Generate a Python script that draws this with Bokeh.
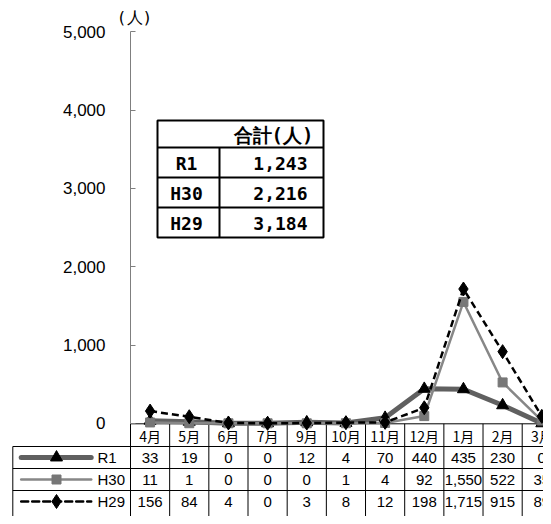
from bokeh.plotting import figure
from bokeh.models import Range1d, LinearAxis, FixedTicker, NumeralTickFormatter, ColumnDataSource
from bokeh.core.properties import value
from bokeh.embed import file_html
from bokeh.resources import INLINE

# ---------------- data ----------------
MONTHS = ["4月", "5月", "6月", "7月", "9月", "10月", "11月", "12月", "1月", "2月", "3月"]
SERIES = ["R1", "H30", "H29"]
R1 = [33, 19, 0, 0, 12, 4, 70, 440, 435, 230, 0]
H30 = [11, 1, 0, 0, 0, 1, 4, 92, 1550, 522, 35]
H29 = [156, 84, 4, 0, 3, 8, 12, 198, 1715, 915, 89]
TOTALS = [1243, 2216, 3184]
Y_TICKS = [0, 1000, 2000, 3000, 4000, 5000]
UNIT_LABEL = "(人)"
TOTAL_HEADER = "合計(人)"

# ---------------- geometry (figure pixels) ----------------
W, H = 543, 516
X0 = 130.0          # px of the value axis / left edge of first month column
COL_W = 39.17       # px per month column
Y0 = 422.8          # px of value 0
PPU = 0.0783        # px per person

x_range = Range1d(-X0 / COL_W, (W - X0) / COL_W)
y_range = Range1d(-(H - Y0) / PPU, Y0 / PPU)

p = figure(width=W, height=H, x_range=x_range, y_range=y_range,
           x_axis_type=None, y_axis_type=None, toolbar_location=None,
           output_backend="svg", min_border=0, outline_line_color=None,
           background_fill_color="white", border_fill_color="white")
p.xgrid.visible = False
p.ygrid.visible = False
p.extra_x_ranges = {"px": Range1d(0, W)}
p.extra_y_ranges = {"px": Range1d(H, 0)}

NUM_FONT = value("Liberation Sans")
JP_FONT = value("Noto Sans CJK JP")
MONO = value("DejaVu Sans Mono")

# ---------------- value axis ----------------
yaxis = LinearAxis(fixed_location=0, ticker=FixedTicker(ticks=Y_TICKS),
                   formatter=NumeralTickFormatter(format="0,0"),
                   bounds=(Y_TICKS[0], Y_TICKS[-1]))
yaxis.axis_line_color = "#7f7f7f"
yaxis.major_tick_line_color = "#7f7f7f"
yaxis.major_tick_in = 5
yaxis.major_tick_out = 0
yaxis.minor_tick_line_color = None
yaxis.major_label_standoff = 25
yaxis.major_label_text_font = "Liberation Sans"
yaxis.major_label_text_font_size = "17px"
yaxis.major_label_text_color = "black"
p.add_layout(yaxis, "left")

p.text(x=[X0 + 4], y=[17], text=[UNIT_LABEL], x_range_name="px", y_range_name="px",
       text_font=MONO, text_font_size="16px", text_align="center",
       text_baseline="middle", text_color="black")

# ---------------- data table below ----------------
n = len(MONTHS)
TOP = Y0 + 0.5
ROW_LINES = [446, 468, 490]
ROW_TEXT = [457, 479, 501]
HEAD_TEXT = 435.5
LEFT = 12.3

# x-axis line / table top
p.segment(x0=[0], y0=[TOP], x1=[n + 1], y1=[TOP], y_range_name="px",
          line_color="black", line_width=1)
# month column verticals
p.segment(x0=list(range(n + 1)), y0=[TOP] * (n + 1), x1=list(range(n + 1)), y1=[H + 5] * (n + 1),
          y_range_name="px", line_color="black", line_width=1)
# row horizontals
p.segment(x0=[LEFT] * 3, y0=ROW_LINES, x1=[W] * 3, y1=ROW_LINES,
          x_range_name="px", y_range_name="px", line_color="black", line_width=1)
# left border
p.segment(x0=[LEFT], y0=[ROW_LINES[0]], x1=[LEFT], y1=[H + 5],
          x_range_name="px", y_range_name="px", line_color="black", line_width=1)

xc = [i + 0.5 for i in range(n)]
p.text(x=xc, y=[HEAD_TEXT] * n, text=MONTHS, y_range_name="px", text_font=JP_FONT,
       text_font_size="14px", text_align="center", text_baseline="middle", text_color="black")

for vals, yt in zip([R1, H30, H29], ROW_TEXT):
    p.text(x=xc, y=[yt] * n, text=[f"{v:,}" for v in vals], y_range_name="px",
           text_font=NUM_FONT, text_font_size="15px", text_align="center",
           text_baseline="middle", text_color="black")

# legend keys in left column
STYLES = [
    dict(color="#606060", width=5, dash="solid", marker="triangle", msize=12, mcolor="black"),
    dict(color="#878787", width=2.5, dash="solid", marker="square", msize=9, mcolor="#777777"),
    dict(color="black", width=2.5, dash="7 4", marker="diamond", msize=14, mcolor="black"),
]
for name, st, yt in zip(SERIES, STYLES, ROW_TEXT):
    p.line(x=[20.7, 90.7], y=[yt, yt], x_range_name="px", y_range_name="px",
           line_color=st["color"], line_width=st["width"], line_dash=st["dash"], line_cap="round")
    p.scatter(x=[56], y=[yt], x_range_name="px", y_range_name="px", marker=st["marker"],
              size=st["msize"], fill_color=st["mcolor"], line_color=st["mcolor"])
    p.text(x=[97], y=[yt], text=[name], x_range_name="px", y_range_name="px",
           text_font=NUM_FONT, text_font_size="15px", text_align="left",
           text_baseline="middle", text_color="black")

# ---------------- series lines ----------------
for vals, st in zip([R1, H30, H29], STYLES):
    src = ColumnDataSource(dict(x=xc, y=vals))
    p.line("x", "y", source=src, line_color=st["color"], line_width=st["width"],
           line_dash=st["dash"], line_join="round")
    p.scatter("x", "y", source=src, marker=st["marker"], size=st["msize"],
              fill_color=st["mcolor"], line_color=st["mcolor"])

# ---------------- totals inset table ----------------
BL, BR, BT, BB = 157, 323, 120, 237
INNER = [147, 177, 207]
DIV = 219
p.quad(left=[BL], right=[BR], top=[BT], bottom=[BB], x_range_name="px", y_range_name="px",
       fill_color="white", line_color="black", line_width=2)
p.segment(x0=[BL] * 3, y0=INNER, x1=[BR] * 3, y1=INNER, x_range_name="px", y_range_name="px",
          line_color="black", line_width=2)
p.segment(x0=[DIV], y0=[INNER[0]], x1=[DIV], y1=[BB], x_range_name="px", y_range_name="px",
          line_color="black", line_width=2)
p.text(x=[313], y=[(BT + INNER[0]) / 2 + 1], text=[TOTAL_HEADER], x_range_name="px",
       y_range_name="px", text_font=MONO, text_font_style="bold", text_font_size="19px",
       text_align="right", text_baseline="middle", text_color="black")
rows_y = [(INNER[0] + INNER[1]) / 2, (INNER[1] + INNER[2]) / 2, (INNER[2] + BB) / 2]
p.text(x=[186] * 3, y=[r + 1 for r in rows_y], text=SERIES, x_range_name="px", y_range_name="px",
       text_font=MONO, text_font_style="bold", text_font_size="18px",
       text_align="center", text_baseline="middle", text_color="black")
p.text(x=[307] * 3, y=[r + 1 for r in rows_y], text=[f"{t:,}" for t in TOTALS],
       x_range_name="px", y_range_name="px",
       text_font=MONO, text_font_style="bold", text_font_size="18px",
       text_align="right", text_baseline="middle", text_color="black")

open("out.html", "w").write(file_html(p, INLINE))
